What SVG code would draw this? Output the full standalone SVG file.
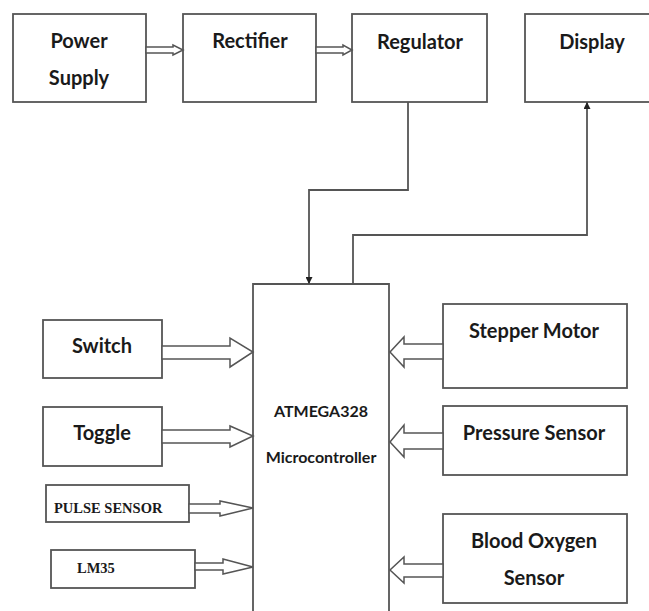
<svg xmlns="http://www.w3.org/2000/svg" width="649" height="611" viewBox="0 0 649 611">
<defs>
<style>
.box{fill:#fff;stroke:#555;stroke-width:1.8}
.t{font-family:Lato,"Open Sans","Liberation Sans",sans-serif;font-weight:bold;fill:#1a1a1a;text-anchor:middle}
.s{font-family:"Liberation Serif","Times New Roman",serif;font-weight:bold;fill:#1a1a1a}
.ha{fill:#fff;stroke:#555;stroke-width:1.5;stroke-linejoin:miter}
.ln{fill:none;stroke:#555;stroke-width:1.8}
</style>
<marker id="ah" viewBox="0 0 10 10" refX="10" refY="5" markerWidth="7" markerHeight="7" orient="auto" markerUnits="userSpaceOnUse">
<path d="M0,0 L10,5 L0,10 z" fill="#222"/>
</marker>
</defs>
<rect width="649" height="611" fill="#fff"/>
<g id="power-supply"><rect class="box" x="13" y="14" width="133" height="88"/><text class="t" x="79" y="48" font-size="20">Power</text><text class="t" x="79" y="85" font-size="20">Supply</text></g>
<g id="rectifier"><rect class="box" x="183" y="14" width="133" height="88"/><text class="t" x="250" y="48" font-size="20">Rectifier</text></g>
<g id="regulator"><rect class="box" x="352" y="14" width="135" height="88"/><text class="t" x="420" y="49" font-size="20">Regulator</text></g>
<g id="display"><rect class="box" x="525" y="14" width="135" height="88"/><text class="t" x="592" y="49" font-size="20">Display</text></g>
<g id="microcontroller"><path class="box" d="M253,615 V284 H389 V615"/><text class="t" x="321" y="417" font-size="16">ATMEGA328</text><text class="t" x="321" y="463" font-size="16">Microcontroller</text></g>
<g id="switch"><rect class="box" x="43" y="320" width="119" height="58"/><text class="t" x="102" y="353" font-size="20">Switch</text></g>
<g id="toggle"><rect class="box" x="43" y="407" width="119" height="59"/><text class="t" x="102" y="440" font-size="20">Toggle</text></g>
<g id="pulse-sensor"><rect class="box" x="46" y="485" width="143" height="37" stroke-width="1.3"/><text class="s" x="54" y="513" font-size="14.5">PULSE SENSOR</text></g>
<g id="lm35"><rect class="box" x="51" y="550" width="144" height="38" stroke-width="1.3"/><text class="s" x="77" y="573" font-size="14.5">LM35</text></g>
<g id="stepper-motor"><rect class="box" x="443" y="304" width="184" height="84"/><text class="t" x="534" y="338" font-size="20">Stepper Motor</text></g>
<g id="pressure-sensor"><rect class="box" x="443" y="406" width="184" height="69"/><text class="t" x="534" y="440" font-size="20">Pressure Sensor</text></g>
<g id="blood-oxygen-sensor"><rect class="box" x="443" y="514" width="184" height="89"/><text class="t" x="534" y="548" font-size="20">Blood Oxygen</text><text class="t" x="534" y="585" font-size="20">Sensor</text></g>
<g id="connectors">
<polygon class="ha" points="146,47 173,47 173,45 183,50 173,55 173,53 146,53"/>
<polygon class="ha" points="316,47 343,47 343,45 352,50 343,55 343,53 316,53"/>
<polyline class="ln" points="408,102 408,190 309,190 309,284" marker-end="url(#ah)"/>
<polyline class="ln" points="353,284 353,235 587,235 587,102" marker-end="url(#ah)"/>
<polygon class="ha" points="162,346 230,346 230,338 253,352 230,367 230,359 162,359"/>
<polygon class="ha" points="162,430 230,430 230,426 253,436 230,447 230,443 162,443"/>
<polygon class="ha" points="189,504 220,504 220,501 253,508 220,516 220,513 189,513" stroke-width="1.2"/>
<polygon class="ha" points="195,563 223,563 223,559 253,567 223,574 223,570 195,570" stroke-width="1.2"/>
<polygon class="ha" points="443,344 404,344 404,337 390,352 404,367 404,359 443,359"/>
<polygon class="ha" points="443,433 404,433 404,425 390,442 404,457 404,449 443,449"/>
<polygon class="ha" points="443,564 404,564 404,557 390,570 404,583 404,577 443,577"/>
</g>
</svg>
